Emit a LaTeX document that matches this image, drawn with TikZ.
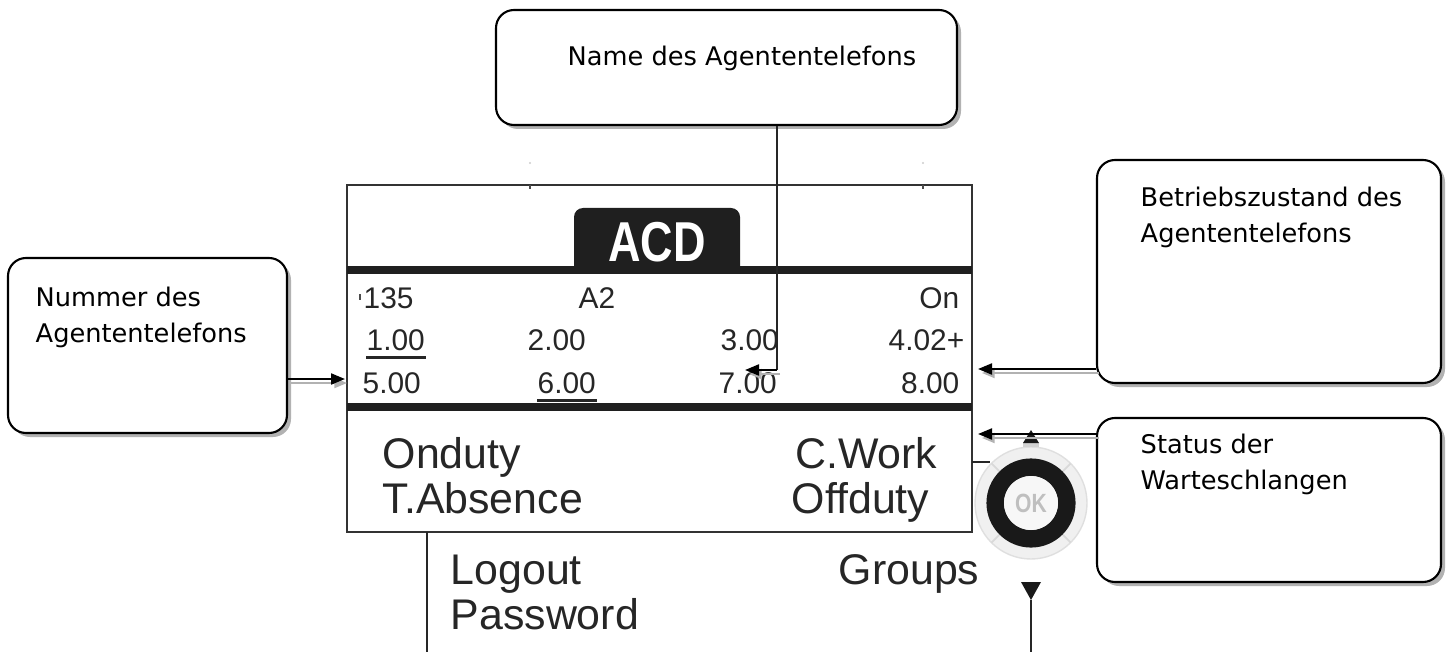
\documentclass[tikz,border=0pt]{standalone}
\usepackage{fontspec}
\setmainfont{Liberation Sans}
\newfontfamily\callfont{DejaVu Sans}
\newfontfamily\tabfont[FakeStretch=0.8]{Liberation Sans}
\usetikzlibrary{arrows.meta,calc,shadows}
\tikzset{
  callbox/.style ={draw,line width=0.6pt,rounded corners=1.8mm,fill=white,
                   drop shadow={shadow xshift=0.4mm,shadow yshift=-0.4mm,fill=gray!60,opacity=1}},
  calltext/.style={anchor=base west,align=left,inner sep=0pt,
                   font=\callfont\fontsize{7.3}{10}\selectfont},
  scrbox/.style  ={draw=black!80,line width=0.55pt},
  sepline/.style ={line width=2pt,black!88},
  lcd/.style     ={inner sep=0pt,font=\fontsize{8.5}{10}\selectfont,text=black!85},
  menu/.style    ={inner sep=0pt,font=\fontsize{12.2}{14}\selectfont,text=black!85},
  pointer/.style ={line width=0.6pt,-{Triangle[length=1.4mm,width=1.1mm]},
                   preaction={draw=gray!60,transform canvas={shift={(0.3mm,-0.4mm)}}}},
  lead/.style    ={line width=0.5pt,black!85},
}
\begin{document}
\begin{tikzpicture}[x=0.1mm,y=-0.1mm]
\useasboundingbox (0,0) rectangle (1451,652);
% Callouts
\node[callbox,minimum width=46.1mm,minimum height=11.5mm] (NM) at (726.5,67.5) {};
\node[callbox,minimum width=27.9mm,minimum height=17.5mm] (NR) at (147.5,345.5) {};
\node[callbox,minimum width=34.4mm,minimum height=22.3mm] (BZ) at (1269,271.5) {};
\node[callbox,minimum width=34.4mm,minimum height=16.4mm] (ST) at (1269,500) {};
\node[calltext] (NMt) at (567,66)   {Name des Agententelefons};
\node[calltext] (NRt) at (35,342)   {Nummer des\\Agententelefons};
\node[calltext] (BZt) at (1140,242) {Betriebszustand des\\Agententelefons};
\node[calltext] (STt) at (1140,489) {Status der\\Warteschlangen};
% Display frame and ACD tab
\node[scrbox,minimum width=62.5mm,minimum height=34.7mm] (SCR) at (659.5,358.5) {};
\draw[black!70,line width=0.6pt] (530,185) -- (530,189) (923,185) -- (923,189);
\fill[gray!40] (530,163) circle (0.12mm) (923,163) circle (0.12mm);
\fill[black!88,rounded corners=0.9mm] (574,270) -- (574,208) -- (740,208) -- (740,270);
\node[inner sep=0pt,text=white,font=\tabfont\bfseries\fontsize{16}{18}\selectfont,anchor=base] (ACD) at (657,261) {ACD};
\draw[sepline] (347,270) -- (972,270);
\draw[sepline] (347,407) -- (972,407);
% Queue rows
\fill[black!70] (359,294) rectangle (361,300);
\node[lcd,anchor=base west] (n135) at (363,308) {135};
\node[lcd,anchor=base]      (nA2)  at (597,308) {A2};
\node[lcd,anchor=base east] (nOn)  at (960,308) {On};
\node[lcd,anchor=base west] (q1) at (366,350) {1.00};
\node[lcd,anchor=base west] (q2) at (527,350) {2.00};
\node[lcd,anchor=base west] (q3) at (720,350) {3.00};
\node[lcd,anchor=base east] (q4) at (965,350) {4.02+};
\node[lcd,anchor=base west] (q5) at (362,393) {5.00};
\node[lcd,anchor=base west] (q6) at (537,393) {6.00};
\node[lcd,anchor=base west] (q7) at (718,393) {7.00};
\node[lcd,anchor=base east] (q8) at (960,393) {8.00};
\draw[line width=0.8pt,black!85] ([yshift=-2.2pt]q1.base west) -- ([yshift=-2.2pt]q1.base east);
\draw[line width=0.8pt,black!85] ([yshift=-2.2pt]q6.base west) -- ([yshift=-2.2pt]q6.base east);
% Menu entries
\node[menu,anchor=base west] (m1) at (382,468) {Onduty};
\node[menu,anchor=base east] (m2) at (938,468) {C.Work};
\node[menu,anchor=base west] (m3) at (382,513) {T.Absence};
\node[menu,anchor=base east] (m4) at (930,513) {Offduty};
\node[menu,anchor=base west] (m5) at (450,584) {Logout};
\node[menu,anchor=base west] (m6) at (450,629) {Password};
\node[menu,anchor=base east] (m7) at (980,584) {Groups};
\draw[lead] (427,532) -- (427,652);
\draw[lead] (1031,600) -- (1031,652);
% OK key
\coordinate (OK) at (1031,503);
\draw[lead] (972,462) -- (990,462);
\fill[gray!12,draw=gray!25] (OK) circle (5.6mm);
\foreach \a in {45,135,225,315}
  \draw[gray!30,line width=0.5pt] ($(OK)+(\a:4.3mm)$) -- ($(OK)+(\a:5.6mm)$);
\draw[black!90,line width=1.75mm] (OK) circle (3.58mm);
\fill[gray!6] (OK) circle (2.7mm);
\node[inner sep=0pt,text=gray!50,font=\tabfont\bfseries\fontsize{7.5}{8}\selectfont] (OKt) at (OK) {OK};
\fill[gray!35] (1023,443) rectangle (1039,447);
\fill[black!90] (1023,443) -- (1039,443) -- (1031,430) -- cycle;
\fill[black!90] (1021,582) -- (1041,582) -- (1031,600) -- cycle;
% Pointers
\coordinate (NRtip) at (345,379);
\coordinate (BZtip) at (978,369);
\coordinate (STtip) at (978,434);
\coordinate (NMbend) at (777,370);
\coordinate (NMtip) at (745,370);
\draw[pointer] (NR.east |- NRtip) -- (NRtip);
\draw[pointer] (BZ.west |- BZtip) -- (BZtip);
\draw[pointer] (ST.west |- STtip) -- (STtip);
\draw[lead] (NM.south -| NMbend) -- (NMbend);
\draw[pointer] (NMbend) -- (NMtip);
\end{tikzpicture}
\end{document}
